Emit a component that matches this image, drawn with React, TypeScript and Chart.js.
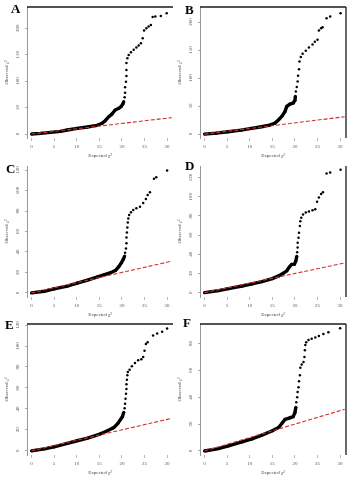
import React, { useEffect, useRef } from 'react';
import { Chart, registerables } from 'chart.js';
Chart.register(...registerables);

// ---- data ----
const X_TICKS = [0, 5, 10, 15, 20, 25, 30];
const Y_TICKS_AB = [0, 50, 100, 150, 200];
const Y_TICKS_CDE = [0, 20, 40, 60, 80, 100, 120];
const Y_TICKS_F = [0, 20, 40, 60, 80];
const REF_X = [0, 31];
const REF_Y = [0, 31];

const A_BAND_X = [0, 2, 4.2, 6.4, 7.9, 10.1, 12.3, 14.5, 15.6, 16.3, 17.1, 17.8, 18.5, 19.3, 19.8, 20.2, 20.4];
const A_BAND_Y = [0, 1.3, 3.2, 5, 7.6, 10.7, 13.2, 16.4, 20.2, 25.2, 32.8, 37.9, 45.4, 48.6, 51.7, 56.8, 61.2];
const A_TAIL_X = [20.6, 20.7, 20.7, 20.9, 21, 21, 21, 21.2, 21.5, 22, 22.6, 23.2, 23.7, 24.2, 24.6, 24.9, 25.4, 25.9, 26.4, 26.8, 27.4, 28.6, 29.9];
const A_TAIL_Y = [69.4, 78.2, 88.3, 99, 109.8, 121, 134, 143, 149.5, 154.6, 159, 163.4, 167.2, 171.6, 181, 195.6, 200, 203, 206, 221, 222, 223, 228];

const B_BAND_X = [0, 2.6, 5.2, 8.1, 10.4, 12.6, 14.4, 15.6, 16.4, 17.2, 17.8, 18.2, 18.9, 19.6, 20, 20.1];
const B_BAND_Y = [0, 1.8, 4.2, 7.1, 10.1, 13.1, 16.1, 19.6, 25.6, 32.7, 40.5, 49.4, 53.6, 55.4, 60, 67.3];
const B_TAIL_X = [20.2, 20.4, 20.6, 20.7, 20.9, 21, 21.3, 21.7, 22.4, 23.1, 23.9, 24.4, 25, 25.3, 25.8, 26.1, 27, 27.8, 30.1];
const B_TAIL_Y = [76.2, 83.9, 94, 104, 116, 129.8, 137.5, 143.5, 148.8, 154.8, 160, 165, 168.5, 185, 189, 191, 207, 210, 216];

const C_BAND_X = [0, 2.8, 5, 7.9, 10.1, 12.4, 14.6, 16, 17.5, 18.6, 19.3, 19.9, 20.3, 20.6];
const C_BAND_Y = [0, 1.6, 3.9, 6.6, 9.5, 12.5, 15.7, 17.7, 19.7, 22, 25.6, 29.5, 32.8, 36];
const C_TAIL_X = [20.7, 20.9, 21, 21, 21.1, 21.2, 21.3, 21.4, 21.6, 22, 22.5, 23.2, 24, 24.7, 25.3, 25.7, 26.2, 27.1, 27.6, 30];
const C_TAIL_Y = [39.3, 43.3, 48.5, 54.1, 59, 63.9, 68.9, 72.8, 76.1, 78.7, 81, 82.6, 84.3, 87.9, 91.8, 95.7, 98.4, 111.5, 113, 119.7];

const D_BAND_X = [0, 3.1, 5.3, 8.3, 10.5, 12.7, 15, 16.4, 17.5, 18.2, 18.8, 19.3, 19.9, 20.2, 20.4];
const D_BAND_Y = [0, 2.1, 4.2, 7, 9.1, 11.6, 14.7, 17.5, 20.4, 22.8, 27, 29.5, 29.8, 33, 37.9];
const D_TAIL_X = [20.5, 20.6, 20.6, 20.8, 20.9, 21.1, 21.2, 21.4, 21.8, 22.4, 23.1, 23.9, 24.5, 24.9, 25.3, 25.8, 26.2, 27, 27.8, 30.1];
const D_TAIL_Y = [42.1, 47, 51.9, 57.2, 62.5, 69.5, 74.4, 78.2, 81.4, 83.5, 84.6, 86, 87, 94.7, 99.3, 102.8, 104.6, 124.2, 125.3, 128];

const E_BAND_X = [0, 2.8, 5, 7.9, 10.1, 12.4, 15.1, 16.8, 18.2, 19.1, 19.7, 20.1, 20.4];
const E_BAND_Y = [0, 1.9, 3.8, 7, 9.6, 12.2, 16, 19.2, 22.1, 26.2, 30, 32.6, 36.8];
const E_TAIL_X = [20.6, 20.7, 20.8, 20.9, 21, 21, 21.1, 21.2, 21.3, 21.7, 22.2, 22.9, 23.6, 24.3, 24.7, 25, 25.3, 25.7, 26.9, 27.8, 28.9, 30];
const E_TAIL_Y = [40.6, 44.8, 49.6, 54.4, 58.9, 63.4, 67.8, 72, 75.2, 77.4, 80.6, 83.8, 86.4, 87.4, 89.6, 95.4, 101.8, 103.7, 110, 112, 113.6, 116.8];

const F_BAND_X = [0, 3.1, 5.3, 8.3, 10.5, 12.7, 15, 16.4, 17.1, 17.8, 18.7, 19.6, 20, 20.2];
const F_BAND_Y = [0, 1.8, 3.8, 6.8, 9, 11.8, 15, 17.5, 20.5, 23.5, 24.5, 25.5, 28.5, 32.5];
const F_TAIL_X = [20.3, 20.5, 20.6, 20.8, 20.9, 21.1, 21.2, 21.5, 21.9, 22.1, 22.2, 22.3, 22.5, 23, 23.7, 24.5, 25.3, 26.3, 27.4, 30];
const F_TAIL_Y = [36.3, 40, 43.8, 47.5, 51.8, 56.3, 62, 64.3, 66.3, 70, 75, 78.8, 81, 82.5, 83.5, 84.5, 85.5, 87, 88.3, 91.3];

const X_LABEL = 'Expected χ²';
const Y_LABEL = 'Observed χ²';

const FONT = '"Liberation Serif", "DejaVu Serif", serif';

const zip = (xs: number[], ys: number[]) => xs.map((x, i) => ({ x, y: ys[i] }));

const framePlugin = {
  id: 'frame',
  afterDraw(chart: any, _args: any, opts: any) {
    const { ctx, chartArea } = chart;
    const { left, right, top, bottom } = chartArea;
    ctx.save();
    ctx.strokeStyle = '#1a1a1a';
    ctx.lineWidth = 1.6;
    if (opts.top) {
      ctx.beginPath();
      ctx.moveTo(left, top);
      ctx.lineTo(right, top);
      ctx.stroke();
    }
    if (opts.right) {
      ctx.lineWidth = 1.3;
      ctx.beginPath();
      ctx.moveTo(right, top);
      ctx.lineTo(right, bottom);
      ctx.stroke();
    }
    const ys = chart.scales.y;
    ctx.fillStyle = '#555';
    ctx.font = `5px ${FONT}`;
    ctx.textAlign = 'center';
    ctx.textBaseline = 'middle';
    ys.ticks.forEach((t: any) => {
      const py = ys.getPixelForValue(t.value);
      ctx.save();
      ctx.translate(left - 9.5, py);
      ctx.rotate(-Math.PI / 2);
      ctx.fillText(String(t.value), 0, 0);
      ctx.restore();
    });
    ctx.restore();
  },
};

type PanelProps = {
  left: number;
  top: number;
  width: number;
  padRight: number;
  bandX: number[];
  bandY: number[];
  tailX: number[];
  tailY: number[];
  yMin: number;
  yMax: number;
  yTicks: number[];
  frameTop: boolean;
  frameRight: boolean;
};

function Panel(p: PanelProps) {
  const ref = useRef<HTMLCanvasElement | null>(null);
  useEffect(() => {
    if (!ref.current) return;
    const chart = new Chart(ref.current, {
      type: 'scatter',
      data: {
        datasets: [
          {
            data: zip(REF_X, REF_Y),
            showLine: true,
            borderColor: '#d03030',
            borderWidth: 1.1,
            borderDash: [4, 2],
            pointRadius: 0,
            order: 0,
          },
          {
            data: zip(p.bandX, p.bandY),
            showLine: true,
            borderColor: '#000',
            borderWidth: 3.4,
            pointRadius: 1.6,
            pointBorderWidth: 0,
            pointBackgroundColor: '#000',
            order: 1,
          },
          {
            data: zip(p.tailX, p.tailY),
            showLine: false,
            pointRadius: 1.25,
            pointBorderWidth: 0,
            pointBackgroundColor: '#000',
            order: 2,
          },
        ],
      },
      options: {
        responsive: false,
        animation: false,
        layout: { padding: { top: 7, right: p.padRight, left: 0, bottom: 0 } },
        plugins: {
          legend: { display: false },
          tooltip: { enabled: false },
          frame: { top: p.frameTop, right: p.frameRight },
        } as any,
        scales: {
          x: {
            type: 'linear',
            min: -1,
            max: 31.3,
            afterBuildTicks: (s: any) => {
              s.ticks = X_TICKS.map((v) => ({ value: v }));
            },
            afterFit: (s: any) => {
              s.height = 22;
            },
            ticks: { font: { family: FONT, size: 5 }, color: '#555', padding: 3, maxRotation: 0, autoSkip: false },
            grid: { display: true, drawOnChartArea: false, drawTicks: true, tickLength: 3, color: '#bbb' },
            border: { display: false },
            title: { display: true, text: X_LABEL, font: { family: FONT, size: 5 }, color: '#444', padding: { top: 0, bottom: 1 } },
          },
          y: {
            type: 'linear',
            min: p.yMin,
            max: p.yMax,
            afterBuildTicks: (s: any) => {
              s.ticks = p.yTicks.map((v) => ({ value: v }));
            },
            afterFit: (s: any) => {
              s.width = 27;
            },
            ticks: { display: false },
            grid: { display: true, drawOnChartArea: false, drawTicks: true, tickLength: 2, color: '#aaa' },
            border: { display: true, color: '#999', width: 1 },
            title: { display: true, text: Y_LABEL, font: { family: FONT, size: 5 }, color: '#444', padding: { top: 4, bottom: 0 } },
          },
        },
      } as any,
      plugins: [framePlugin],
    });
    return () => chart.destroy();
  }, []);
  return (
    <canvas
      ref={ref}
      width={p.width}
      height={160}
      style={{ position: 'absolute', left: p.left, top: p.top, width: p.width, height: 160 }}
    />
  );
}

const letterStyle = (left: number, top: number): React.CSSProperties => ({
  position: 'absolute',
  left,
  top,
  fontFamily: FONT,
  fontWeight: 'bold',
  fontSize: 13,
  lineHeight: '13px',
  color: '#000',
  zIndex: 2,
});

export default function App() {
  return (
    <div style={{ position: 'absolute', left: 0, top: 0, width: 355, height: 480, background: '#fff', overflow: 'hidden' }}>
      <Panel left={0} top={0} width={177} padRight={4} bandX={A_BAND_X} bandY={A_BAND_Y} tailX={A_TAIL_X} tailY={A_TAIL_Y} yMin={-7.5} yMax={240} yTicks={Y_TICKS_AB} frameTop={true} frameRight={false} />
      <Panel left={173} top={0} width={182} padRight={9} bandX={B_BAND_X} bandY={B_BAND_Y} tailX={B_TAIL_X} tailY={B_TAIL_Y} yMin={-7} yMax={227} yTicks={Y_TICKS_AB} frameTop={true} frameRight={true} />
      <Panel left={0} top={159} width={177} padRight={4} bandX={C_BAND_X} bandY={C_BAND_Y} tailX={C_TAIL_X} tailY={C_TAIL_Y} yMin={-4} yMax={124} yTicks={Y_TICKS_CDE} frameTop={false} frameRight={false} />
      <Panel left={173} top={159} width={182} padRight={9} bandX={D_BAND_X} bandY={D_BAND_Y} tailX={D_TAIL_X} tailY={D_TAIL_Y} yMin={-4.5} yMax={132} yTicks={Y_TICKS_CDE} frameTop={false} frameRight={true} />
      <Panel left={0} top={317} width={177} padRight={4} bandX={E_BAND_X} bandY={E_BAND_Y} tailX={E_TAIL_X} tailY={E_TAIL_Y} yMin={-4} yMax={121} yTicks={Y_TICKS_CDE} frameTop={true} frameRight={false} />
      <Panel left={173} top={317} width={182} padRight={9} bandX={F_BAND_X} bandY={F_BAND_Y} tailX={F_TAIL_X} tailY={F_TAIL_Y} yMin={-3} yMax={94.5} yTicks={Y_TICKS_F} frameTop={true} frameRight={true} />
      <div style={letterStyle(11, 2)}>A</div>
      <div style={letterStyle(185, 3)}>B</div>
      <div style={letterStyle(6, 162)}>C</div>
      <div style={letterStyle(185, 159)}>D</div>
      <div style={letterStyle(5, 318)}>E</div>
      <div style={letterStyle(183, 316)}>F</div>
    </div>
  );
}
